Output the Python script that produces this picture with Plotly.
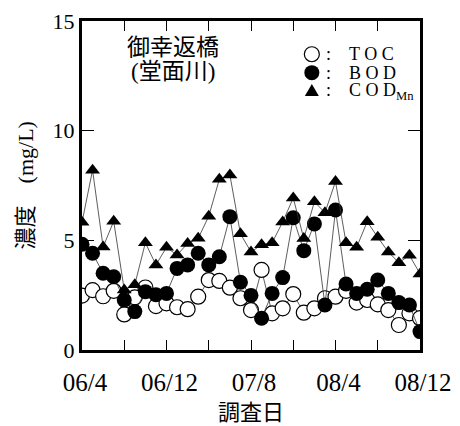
import plotly.graph_objects as go

# Monthly survey dates, 2006/4 - 2008/12
months = [f"{y:02d}/{m}" for y, m in
          [(6, m) for m in range(4, 13)] + [(7, m) for m in range(1, 13)] + [(8, m) for m in range(1, 13)]]

toc = [2.48, 2.73, 2.45, 2.70, 1.62, 2.40, 2.85, 2.00, 2.13, 1.95, 1.86, 2.43, 3.19, 3.15, 2.84, 2.36, 1.82,
       3.65, 1.67, 1.90, 2.55, 1.70, 1.90, 2.36, 2.43, 2.70, 2.16, 2.28, 2.08, 1.82, 1.14, 1.67, 1.45]
bod = [4.82, 4.41, 3.50, 3.34, 2.28, 1.75, 2.66, 2.52, 2.58, 3.72, 3.88, 4.41, 3.88, 4.25, 6.08, 3.09, 2.49,
       1.45, 2.58, 3.30, 6.03, 4.53, 5.75, 2.05, 6.38, 3.01, 2.58, 2.77, 3.19, 2.58, 2.16, 2.05, 0.84]
cod = [5.82, 8.20, 4.70, 5.87, 2.74, 2.98, 4.89, 3.88, 4.68, 4.33, 4.86, 5.09, 6.10, 7.78, 7.98, 5.30, 4.47,
       4.80, 4.89, 5.84, 6.93, 5.08, 6.76, 6.26, 7.68, 4.89, 4.68, 5.85, 5.14, 4.47, 3.98, 4.32, 3.47]

labeled = ["06/4", "06/12", "07/8", "08/4", "08/12"]
yticks = [0, 5, 10, 15]

x = list(range(len(months)))
major = [months.index(m) for m in labeled]
minor = [i for i in x[::4] if i not in major]

SERIF = "'Liberation Serif', 'Times New Roman', 'Noto Sans CJK JP', serif"
LINE = dict(color="#333333", width=0.8)

fig = go.Figure()
fig.add_trace(go.Scatter(x=x, y=toc, mode="lines+markers", line=LINE, name="TOC",
                         marker=dict(symbol="circle", size=15, color="white",
                                     line=dict(color="black", width=1.2))))
fig.add_trace(go.Scatter(x=x, y=bod, mode="lines+markers", line=LINE, name="BOD",
                         marker=dict(symbol="circle", size=15, color="black",
                                     line=dict(color="black", width=0))))
fig.add_trace(go.Scatter(x=x, y=cod, mode="lines+markers", line=LINE, name="CODMn",
                         marker=dict(symbol="triangle-up", size=13, color="black",
                                     line=dict(color="black", width=0))))

fig.update_layout(
    width=460, height=426,
    margin=dict(l=82, r=40, t=21, b=76),
    paper_bgcolor="white", plot_bgcolor="white",
    showlegend=False,
    font=dict(family=SERIF, color="black"),
    xaxis=dict(range=[0, 32], tickvals=major, ticktext=labeled, automargin=False,
               ticks="inside", ticklen=10, tickwidth=1, tickcolor="black",
               minor=dict(tickvals=minor, ticks="inside", ticklen=10, tickwidth=1,
                          tickcolor="black", showgrid=False),
               showline=True, linewidth=3, linecolor="black", mirror="ticks",
               showgrid=False, zeroline=False, ticklabelshift=3, ticklabelstandoff=8,
               tickfont=dict(family=SERIF, size=25),
               title=dict(text="調査日", font=dict(family=SERIF, size=22), standoff=10)),
    yaxis=dict(range=[0, 15], tickvals=yticks, automargin=False,
               ticks="inside", ticklen=12, tickwidth=1, tickcolor="black",
               showline=True, linewidth=3, linecolor="black", mirror="ticks",
               showgrid=False, zeroline=False,
               tickfont=dict(family=SERIF, size=22)),
)

# vertical axis title
fig.add_annotation(xref="paper", yref="paper", x=-0.166, y=0.5, xanchor="center", yanchor="middle",
                   text="濃度\u3000(mg/L)", textangle=-90, showarrow=False,
                   font=dict(family=SERIF, size=22, color="black"))

# station name
fig.add_annotation(xref="paper", yref="paper", x=0.269, y=0.919, xanchor="center", yanchor="middle",
                   text="御幸返橋", showarrow=False, font=dict(family=SERIF, size=23, color="black"))
fig.add_annotation(xref="paper", yref="paper", x=0.269, y=0.846, xanchor="center", yanchor="middle",
                   text="(堂面川)", showarrow=False, font=dict(family=SERIF, size=23, color="black"))

# legend: key symbol followed by ": label"
key_x = 0.680
rows_y = [0.899, 0.843, 0.787]
labels = [":\u2003T O C", ":\u2003B O D", ":\u2003C O D<sub>Mn</sub>"]
for yk, lab in zip(rows_y, labels):
    fig.add_annotation(xref="paper", yref="paper", x=0.7175, y=yk, xanchor="left", yanchor="middle",
                       text=lab, showarrow=False, borderpad=0,
                       font=dict(family=SERIF, size=18, color="black"))

fig.add_shape(type="circle", xref="paper", yref="paper", xsizemode="pixel", ysizemode="pixel",
              xanchor=key_x, yanchor=rows_y[0], x0=-7.5, x1=7.5, y0=-7.5, y1=7.5,
              fillcolor="white", line=dict(color="black", width=1.2))
fig.add_shape(type="circle", xref="paper", yref="paper", xsizemode="pixel", ysizemode="pixel",
              xanchor=key_x, yanchor=rows_y[1], x0=-7.5, x1=7.5, y0=-7.5, y1=7.5,
              fillcolor="black", line=dict(color="black", width=0))
fig.add_shape(type="path", xref="paper", yref="paper", xsizemode="pixel", ysizemode="pixel",
              xanchor=key_x, yanchor=rows_y[2], path="M -7,-5 L 7,-5 L 0,7 Z",
              fillcolor="black", line=dict(color="black", width=0))

fig.write_html("out.html")
